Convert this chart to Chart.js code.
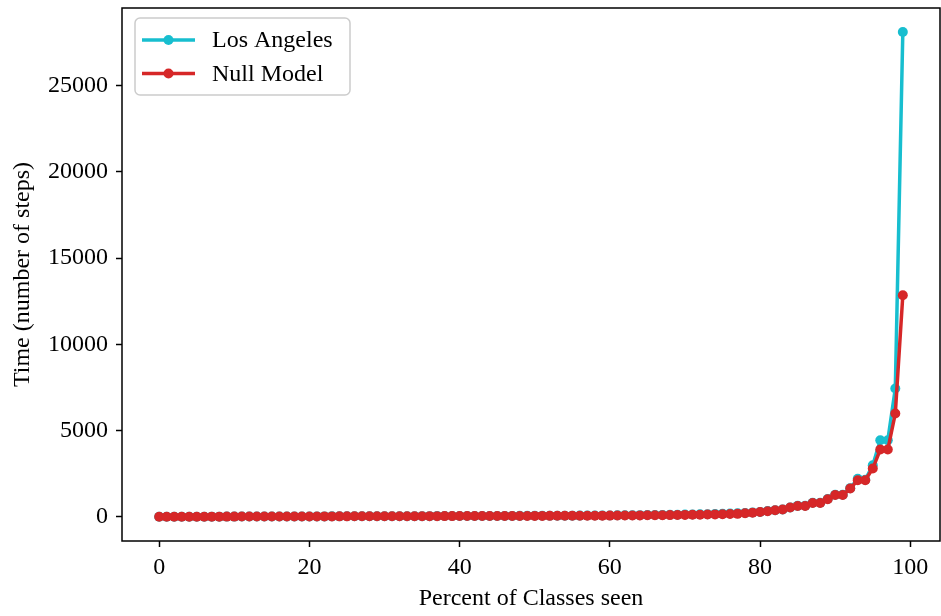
<!DOCTYPE html>
<html>
<head>
<meta charset="utf-8">
<script src="https://cdn.jsdelivr.net/npm/chart.js@4"></script>
<style>
  html, body { margin: 0; padding: 0; background: #fff; }
  #wrap { width: 941px; height: 616px; }
</style>
</head>
<body>
<div id="wrap"><canvas id="chart" width="941" height="616"></canvas></div>
<script>
// percent of classes seen, 0..99
const percents = [
  0, 1, 2, 3, 4, 5, 6, 7, 8, 9, 10, 11, 12, 13, 14, 15, 16, 17, 18, 19,
  20, 21, 22, 23, 24, 25, 26, 27, 28, 29, 30, 31, 32, 33, 34, 35, 36, 37, 38, 39,
  40, 41, 42, 43, 44, 45, 46, 47, 48, 49, 50, 51, 52, 53, 54, 55, 56, 57, 58, 59,
  60, 61, 62, 63, 64, 65, 66, 67, 68, 69, 70, 71, 72, 73, 74, 75, 76, 77, 78, 79,
  80, 81, 82, 83, 84, 85, 86, 87, 88, 89, 90, 91, 92, 93, 94, 95, 96, 97, 98, 99
];

const losAngeles = [
  0, 1, 2, 3, 4, 5, 6, 7, 8, 9, 10, 11, 12, 13, 14, 15, 16, 17, 19, 20,
  21, 22, 23, 24, 25, 26, 27, 28, 29, 30, 31, 32, 33, 34, 35, 36, 37, 38, 40, 41,
  42, 43, 45, 46, 48, 49, 50, 52, 53, 55, 57, 58, 60, 62, 64, 66, 68, 70, 73, 75,
  78, 82, 86, 90, 95, 100, 105, 110, 116, 122, 128, 135, 142, 150, 160, 172, 186, 200, 222, 246,
  280, 330, 382, 425, 540, 632, 640, 815, 810, 1030, 1280, 1275, 1660, 2200, 2150, 2990, 4437, 4437, 7436, 28118
];

const nullModel = [
  0, 1, 2, 3, 4, 5, 6, 7, 8, 9, 10, 11, 12, 13, 14, 15, 16, 17, 18, 19,
  20, 21, 22, 23, 24, 25, 26, 27, 28, 29, 30, 31, 32, 33, 34, 35, 36, 37, 38, 39,
  40, 41, 42, 43, 44, 45, 46, 47, 48, 49, 50, 52, 53, 55, 56, 58, 60, 62, 64, 66,
  68, 71, 74, 77, 80, 84, 88, 92, 97, 102, 108, 114, 121, 128, 137, 146, 156, 170, 205, 240,
  275, 325, 377, 418, 534, 626, 626, 800, 800, 1015, 1265, 1265, 1636, 2117, 2117, 2796, 3898, 3898, 5986, 12847
];

const xTicks = [0, 20, 40, 60, 80, 100];
const yTicks = [0, 5000, 10000, 15000, 20000, 25000];

const FONT = "'Liberation Serif', 'DejaVu Serif', serif";

// black box round the plot area, like matplotlib spines
const frame = {
  id: "frame",
  afterDraw(chart) {
    const { ctx, chartArea: a } = chart;
    ctx.save();
    ctx.strokeStyle = "#000";
    ctx.lineWidth = 1.5;
    ctx.strokeRect(a.left, a.top, a.right - a.left, a.bottom - a.top);
    ctx.restore();
  },
};

// legend box in upper left corner
const boxLegend = {
  id: "boxLegend",
  afterDraw(chart) {
    const { ctx, chartArea: a } = chart;
    const x = a.left + 13, y = a.top + 10, w = 215, h = 77, r = 5;
    ctx.save();
    ctx.beginPath();
    ctx.roundRect(x, y, w, h, r);
    ctx.fillStyle = "rgba(255,255,255,0.8)";
    ctx.fill();
    ctx.strokeStyle = "#cccccc";
    ctx.lineWidth = 1.5;
    ctx.stroke();
    chart.data.datasets.forEach((ds, i) => {
      const ly = y + 22 + i * 33.5;
      ctx.strokeStyle = ds.borderColor;
      ctx.lineWidth = 3.5;
      ctx.beginPath();
      ctx.moveTo(x + 7, ly);
      ctx.lineTo(x + 60, ly);
      ctx.stroke();
      ctx.fillStyle = ds.borderColor;
      ctx.beginPath();
      ctx.arc(x + 33.5, ly, 5, 0, Math.PI * 2);
      ctx.fill();
      ctx.fillStyle = "#000";
      ctx.font = "24px " + FONT;
      ctx.textBaseline = "middle";
      ctx.fillText(ds.label, x + 77, ly + 1);
    });
    ctx.restore();
  },
};

const ctx = document.getElementById("chart").getContext("2d");
new Chart(ctx, {
  type: "line",
  data: {
    datasets: [
      {
        label: "Los Angeles",
        data: percents.map((p, i) => ({ x: p, y: losAngeles[i] })),
        borderColor: "#17becf",
        backgroundColor: "#17becf",
        order: 1,
      },
      {
        label: "Null Model",
        data: percents.map((p, i) => ({ x: p, y: nullModel[i] })),
        borderColor: "#d62728",
        backgroundColor: "#d62728",
        order: 0,
      },
    ],
  },
  options: {
    responsive: false,
    animation: false,
    layout: { autoPadding: false, padding: { top: 8, right: 1, left: 0, bottom: 0 } },
    elements: {
      line: { borderWidth: 3.5, tension: 0 },
      point: { radius: 5, borderWidth: 0, hoverRadius: 5 },
    },
    scales: {
      x: {
        type: "linear",
        min: -4.95,
        max: 103.95,
        afterBuildTicks: (s) => { s.ticks = xTicks.map((v) => ({ value: v })); },
        afterFit: (s) => { s.height = 75; s.paddingLeft = 0; s.paddingRight = 0; },
        grid: { drawOnChartArea: false, tickLength: 6, tickWidth: 1.5, tickColor: "#000" },
        border: { display: false },
        ticks: { color: "#000", font: { family: FONT, size: 24 }, padding: 6, maxRotation: 0,
                 callback: (v) => String(v) },
        title: {
          display: true,
          text: "Percent of Classes seen",
          color: "#000",
          font: { family: FONT, size: 24 },
          padding: { top: 0, bottom: 3 },
        },
      },
      y: {
        min: -1405,
        max: 29505,
        afterBuildTicks: (s) => { s.ticks = yTicks.map((v) => ({ value: v })); },
        afterFit: (s) => { s.width = 122; s.paddingTop = 0; s.paddingBottom = 0; },
        grid: { drawOnChartArea: false, tickLength: 6, tickWidth: 1.5, tickColor: "#000" },
        border: { display: false },
        ticks: { color: "#000", font: { family: FONT, size: 24 }, padding: 8,
                 callback: (v) => String(v) },
        title: {
          display: true,
          text: "Time (number of steps)",
          color: "#000",
          font: { family: FONT, size: 24 },
          padding: { top: 8, bottom: 0 },
        },
      },
    },
    plugins: {
      legend: { display: false },
      tooltip: { enabled: false },
    },
  },
  plugins: [frame, boxLegend],
});
</script>
</body>
</html>
